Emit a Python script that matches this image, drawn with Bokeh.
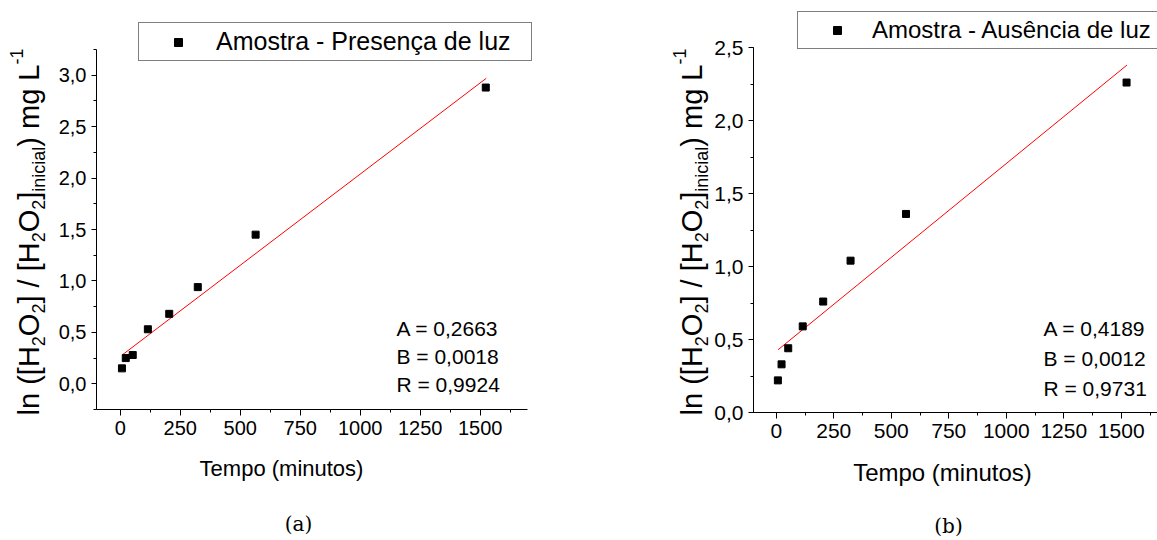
import math
from bokeh.plotting import figure
from bokeh.layouts import row
from bokeh.models import (Label, Legend, LegendItem, SingleIntervalTicker,
                          CustomJSTickFormatter, Range1d)
from bokeh.embed import file_html
from bokeh.resources import INLINE

# ---------------- data ----------------
tempo = [7, 23, 52, 115, 204, 323, 564, 1523]          # minutos
ln_luz = [0.15, 0.25, 0.28, 0.53, 0.68, 0.94, 1.45, 2.88]
ln_escuro = [0.22, 0.33, 0.44, 0.59, 0.76, 1.04, 1.36, 2.26]

fit_x = [8, 1525]
fit_luz = [0.28, 2.97]
fit_escuro = [0.43, 2.38]

stats_luz = ["A = 0,2663", "B = 0,0018", "R = 0,9924"]
stats_escuro = ["A = 0,4189", "B = 0,0012", "R = 0,9731"]
legend_luz = "Amostra - Presença de luz"
legend_escuro = "Amostra - Ausência de luz"
x_title = "Tempo (minutos)"
captions = ["(a)", "(b)"]

# y label pieces: (text, kind)
ylabel_pieces = [("ln ([H", "main"), ("2", "sub"), ("O", "main"), ("2", "sub"),
                 ("] / [H", "main"), ("2", "sub"), ("O", "main"), ("2", "sub"),
                 ("]", "main"), ("inicial", "sub"), (") mg L", "main"), ("-1", "sup")]

FONT = "Liberation Sans"
H = 540
K = 0.43   # empirical baseline correction (fraction of font size)
# Arial / Liberation Sans advance widths (1/1000 em)
AW = {"l": 222, "n": 556, " ": 278, "(": 333, "[": 278, "H": 722, "O": 778, "2": 556,
      "]": 278, "/": 278, "i": 222, "c": 500, "a": 556, ")": 333, "m": 833, "g": 556,
      "L": 556, "-": 333, "1": 556}


def tw(text, size):
    return sum(AW.get(ch, 556) for ch in text) * size / 1000.0


def hlabel(p, x, base, text, size, font=FONT, align="left"):
    p.add_layout(Label(x=x, y=H - base + K * size, x_units="screen", y_units="screen",
                       text=text, text_font=font, text_font_size=f"{size}px",
                       text_color="black", text_align=align, text_baseline="alphabetic"))


def make_panel(width, ax_left, ax_bottom, x_lo, px_per_x, y_lo, y_hi, ax_top, x_hi,
               y_vals, fit_y, leg_text, leg_left, leg_bottom, leg_standoff, leg_lw,
               leg_size, tick_size, stats, stats_x, stats_base, title_cx, title_base,
               title_size, cap_text, cap_cx, cap_base, yl_x, yl_top):
    # canvas-pixel <-> data mapping (frame covers the whole canvas)
    px_per_y = (ax_bottom - ax_top) / (y_hi - y_lo)
    xs = x_lo - ax_left / px_per_x
    xe = x_lo + (width - ax_left) / px_per_x
    ys = y_lo - (H - ax_bottom) / px_per_y
    ye = y_lo + ax_bottom / px_per_y

    p = figure(width=width, height=H, output_backend="svg", toolbar_location=None,
               x_range=Range1d(xs, xe), y_range=Range1d(ys, ye), min_border=0)
    p.outline_line_color = None
    p.background_fill_color = "white"
    p.border_fill_color = "white"
    p.xgrid.visible = False
    p.ygrid.visible = False

    p.xaxis.ticker = SingleIntervalTicker(interval=250, num_minor_ticks=2)
    p.yaxis.ticker = SingleIntervalTicker(interval=0.5, num_minor_ticks=2)
    p.yaxis.formatter = CustomJSTickFormatter(code="return tick.toFixed(1).replace('.', ',')")
    p.xaxis.fixed_location = y_lo
    p.yaxis.fixed_location = x_lo
    p.xaxis.bounds = (x_lo, x_hi)
    p.yaxis.bounds = (y_lo, y_hi)
    for ax in (p.xaxis, p.yaxis):
        ax.axis_line_color = "black"
        ax.axis_line_width = 1
        ax.major_tick_line_color = "black"
        ax.minor_tick_line_color = "black"
        ax.major_tick_in = 0
        ax.minor_tick_in = 0
        ax.minor_tick_out = 3
        ax.major_label_text_font = FONT
        ax.major_label_text_font_size = f"{tick_size}px"
        ax.major_label_text_color = "black"
    p.xaxis.major_tick_out = 6
    p.yaxis.major_tick_out = 5
    p.xaxis.major_label_standoff = 5
    p.yaxis.major_label_standoff = 5

    p.line(fit_x, fit_y, line_color="red", line_width=1)
    r = p.scatter(tempo, y_vals, marker="square", size=7, fill_color="black",
                  line_color="black")

    leg = Legend(items=[LegendItem(label=leg_text, renderers=[r])],
                 location=(leg_left, H - leg_bottom), padding=4, margin=0, spacing=0,
                 glyph_width=70, glyph_height=20, label_standoff=leg_standoff,
                 label_width=leg_lw, border_line_color="black", border_line_width=1,
                 background_fill_color="white", background_fill_alpha=1,
                 label_text_font=FONT, label_text_font_size=f"{leg_size}px",
                 label_text_color="black")
    p.add_layout(leg)

    for txt, b in zip(stats, stats_base):
        hlabel(p, stats_x, b, txt, 21)
    hlabel(p, title_cx, title_base, x_title, title_size, align="center")
    hlabel(p, cap_cx, cap_base, cap_text, 20, font="DejaVu Serif", align="center")

    F, S = 29, 18
    sizes = [F if k == "main" else S for _, k in ylabel_pieces]
    total = sum(tw(t, s) for (t, _), s in zip(ylabel_pieces, sizes))
    start = H - (yl_top + total)        # screen y (from bottom) of text start
    cum = 0.0
    for (txt, kind), size in zip(ylabel_pieces, sizes):
        off = {"main": 0, "sub": 5, "sup": -17}[kind]
        p.add_layout(Label(x=yl_x + off - K * size, y=start + cum, x_units="screen",
                           y_units="screen", text=txt, angle=math.pi / 2,
                           text_font=FONT, text_font_size=f"{size}px", text_color="black",
                           text_align="left", text_baseline="alphabetic"))
        cum += tw(txt, size)
    return p


# left panel: axes at canvas x=96 (x=-99), y=409 (y=-0.25); top of y axis at 49
p1 = make_panel(560, 96, 409, -99, 0.24, -0.25, 3.25, 49, 1697,
                ln_luz, fit_luz, legend_luz, 138, 61, 3, 311, 25,
                20, stats_luz, 396, [337, 365, 393], 281, 477, 22,
                captions[0], 298, 532, 41, 48)

# right panel (canvas offset 560): axes at canvas x=753, y=412; top at 47
p2 = make_panel(597, 193, 412, -99, 0.23, 0.0, 2.5, 47, 1700,
                ln_escuro, fit_escuro, legend_escuro, 237, 49, 0, 330, 24,
                21, stats_escuro, 483, [337, 367, 397], 382, 482, 24,
                captions[1], 388, 534, 144, 48)

layout = row(p1, p2)
open("out.html", "w").write(file_html(layout, INLINE))
